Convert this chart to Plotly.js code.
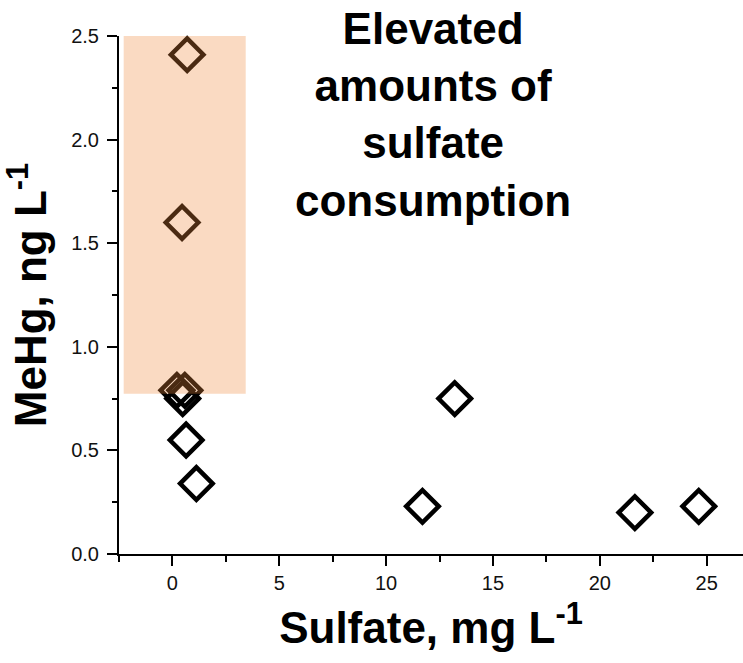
<!DOCTYPE html>
<html>
<head>
<meta charset="utf-8">
<script src="https://cdn.plot.ly/plotly-3.0.1.min.js"></script>
<style>html,body{margin:0;padding:0;background:#fff;}#chart{width:743px;height:663px;}</style>
</head>
<body>
<div id="chart"></div>
<script>
// Data
const sulfate = [0.69, 0.45, 0.21, 0.58, 0.48, 0.64, 1.12, 11.70, 13.21, 21.64, 24.63];
const mehg    = [2.41, 1.60, 0.79, 0.79, 0.75, 0.55, 0.34, 0.23, 0.75, 0.20, 0.23];
const highlightX = [-2.28, 3.43];
const highlightY = [0.774, 2.52];
const noteLines = ["Elevated", "amounts of", "sulfate", "consumption"];
const noteX = 12.2;
const noteY = 2.12;
const xTickVals = [0, 5, 10, 15, 20, 25];
const xTickText = ["0", "5", "10", "15", "20", "25"];
const yTickVals = [0, 0.5, 1, 1.5, 2, 2.5];
const yTickText = ["0.0", "0.5", "1.0", "1.5", "2.0", "2.5"];
const xTitle = "Sulfate, mg L<sup>-1</sup>";
const yTitle = "MeHg, ng L<sup>-1</sup>";

const FONT = "Arial, Liberation Sans, sans-serif";

const trace = {
  type: "scatter",
  mode: "markers",
  x: sulfate,
  y: mehg,
  cliponaxis: false,
  marker: {
    symbol: "diamond-open",
    size: 25,
    color: "#000",
    line: { color: "#000", width: 4.5 }
  },
  hoverinfo: "x+y"
};

const layout = {
  width: 743,
  height: 663,
  margin: { l: 119, r: 0, t: 36, b: 109, pad: 0 },
  paper_bgcolor: "#fff",
  plot_bgcolor: "#fff",
  showlegend: false,
  font: { family: FONT, color: "#000", size: 20 },
  xaxis: {
    range: [-2.5, 26.7],
    tickmode: "array",
    tickvals: xTickVals,
    ticktext: xTickText,
    showline: true, linecolor: "#000", linewidth: 2,
    ticks: "outside", ticklen: 10, tickwidth: 2, tickcolor: "#000",
    showgrid: false, zeroline: false, automargin: false,
    tickfont: { family: FONT, size: 20, color: "#111" },
    minor: { dtick: 2.5, tick0: 0, ticks: "outside", ticklen: 5.5, tickwidth: 2, tickcolor: "#000", showgrid: false },
    title: { text: xTitle, font: { family: FONT, size: 44, color: "#000", weight: "bold" }, standoff: 19 }
  },
  yaxis: {
    range: [0, 2.5],
    tickmode: "array",
    tickvals: yTickVals,
    ticktext: yTickText,
    showline: true, linecolor: "#000", linewidth: 2,
    ticks: "outside", ticklen: 10, tickwidth: 2, tickcolor: "#000",
    showgrid: false, zeroline: false, automargin: false,
    ticklabelstandoff: 4,
    tickfont: { family: FONT, size: 20, color: "#111" },
    minor: { dtick: 0.25, tick0: 0, ticks: "outside", ticklen: 5.5, tickwidth: 2, tickcolor: "#000", showgrid: false },
    title: { text: yTitle, font: { family: FONT, size: 44, color: "#000", weight: "bold" }, standoff: 12 }
  },
  shapes: [{
    type: "rect",
    xref: "x", yref: "y",
    x0: highlightX[0], x1: highlightX[1],
    y0: highlightY[0], y1: highlightY[1],
    fillcolor: "rgb(239,134,57)",
    opacity: 0.31,
    line: { width: 0 },
    layer: "above"
  }],
  annotations: [{
    xref: "x", yref: "y",
    x: noteX, y: noteY,
    xanchor: "center", yanchor: "middle",
    text: noteLines.map(s => "<b>" + s + "</b>").join("<br>"),
    showarrow: false,
    align: "center",
    font: { family: FONT, size: 44, color: "#000" }
  }]
};

Plotly.newPlot("chart", [trace], layout, { displayModeBar: false, staticPlot: true });
</script>
</body>
</html>
